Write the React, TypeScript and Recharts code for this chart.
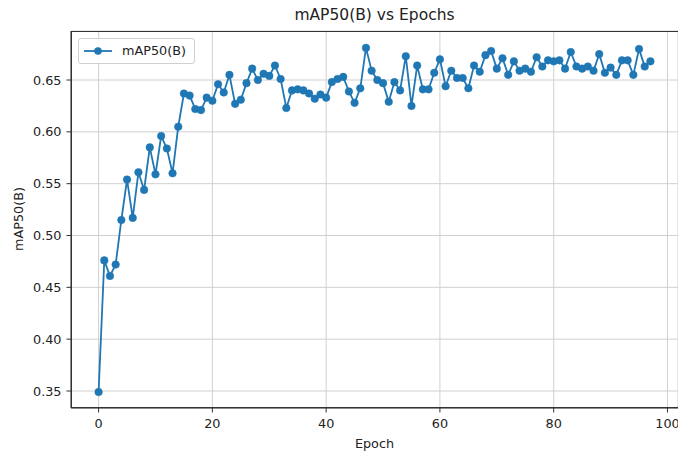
import React from 'react';
import { LineChart, Line, XAxis, YAxis, CartesianGrid } from 'recharts';

const epochs = [
  0, 1, 2, 3, 4, 5, 6, 7, 8, 9, 10, 11, 12, 13, 14, 15, 16, 17, 18, 19,
  20, 21, 22, 23, 24, 25, 26, 27, 28, 29, 30, 31, 32, 33, 34, 35, 36, 37, 38, 39,
  40, 41, 42, 43, 44, 45, 46, 47, 48, 49, 50, 51, 52, 53, 54, 55, 56, 57, 58, 59,
  60, 61, 62, 63, 64, 65, 66, 67, 68, 69, 70, 71, 72, 73, 74, 75, 76, 77, 78, 79,
  80, 81, 82, 83, 84, 85, 86, 87, 88, 89, 90, 91, 92, 93, 94, 95, 96, 97,
];

const map50 = [
  0.349, 0.476, 0.461, 0.472, 0.515, 0.554, 0.517, 0.561, 0.544, 0.585,
  0.559, 0.596, 0.584, 0.560, 0.605, 0.637, 0.635, 0.622, 0.621, 0.633,
  0.630, 0.646, 0.638, 0.655, 0.627, 0.631, 0.647, 0.661, 0.650, 0.656,
  0.654, 0.664, 0.651, 0.623, 0.640, 0.641, 0.640, 0.637, 0.632, 0.636,
  0.633, 0.648, 0.651, 0.653, 0.639, 0.628, 0.642, 0.681, 0.659, 0.650,
  0.647, 0.629, 0.648, 0.640, 0.673, 0.625, 0.664, 0.641, 0.641, 0.657,
  0.670, 0.644, 0.659, 0.652, 0.652, 0.642, 0.664, 0.658, 0.674, 0.678,
  0.661, 0.671, 0.655, 0.668, 0.659, 0.661, 0.658, 0.672, 0.663, 0.669,
  0.668, 0.669, 0.661, 0.677, 0.663, 0.661, 0.663, 0.659, 0.675, 0.657,
  0.662, 0.655, 0.669, 0.669, 0.655, 0.680, 0.663, 0.668,
];

const xTicks = [0, 20, 40, 60, 80, 100];
const yTicks = [0.35, 0.4, 0.45, 0.5, 0.55, 0.6, 0.65];

const title = 'mAP50(B) vs Epochs';
const xLabel = 'Epoch';
const yLabel = 'mAP50(B)';
const seriesName = 'mAP50(B)';

const data = epochs.map((e, i) => ({ epoch: e, value: map50[i] }));

const BLUE = '#1f77b4';
const FONT = '"DejaVu Sans", sans-serif';

export default function App() {
  return (
    <div
      style={{
        position: 'absolute',
        left: 0,
        top: 0,
        width: 678,
        height: 453,
        background: '#fff',
        fontFamily: FONT,
        overflow: 'hidden',
      }}
    >
      <LineChart
        width={678}
        height={453}
        data={data}
        margin={{ top: 31, right: 0, left: 0, bottom: 0 }}
      >
        <CartesianGrid stroke="#d0d0d0" strokeWidth={1} />
        <XAxis
          type="number"
          dataKey="epoch"
          domain={[-4.85, 101.85]}
          ticks={xTicks}
          allowDataOverflow
          height={45}
          tickSize={4.5}
          tickMargin={6}
          stroke="#333"
          tick={{ fontSize: 12.8, fill: '#222', fontFamily: FONT }}
        />
        <YAxis
          type="number"
          domain={[0.3336, 0.6973]}
          ticks={yTicks}
          allowDataOverflow
          width={71}
          tickSize={4.5}
          tickMargin={5}
          stroke="#333"
          tickFormatter={(v: number) => v.toFixed(2)}
          tick={{ fontSize: 12.8, fill: '#222', fontFamily: FONT }}
        />
        <Line
          type="linear"
          dataKey="value"
          name={seriesName}
          stroke={BLUE}
          strokeWidth={1.8}
          dot={{ r: 3.8, fill: BLUE, stroke: BLUE, strokeWidth: 0.5 }}
          activeDot={false}
          isAnimationActive={false}
        />
      </LineChart>
      {/* plot frame */}
      <div
        style={{
          position: 'absolute',
          left: 71,
          top: 31,
          width: 609,
          height: 377,
          border: '1px solid #333',
          boxSizing: 'border-box',
          pointerEvents: 'none',
        }}
      />
      {/* title */}
      <div
        style={{
          position: 'absolute',
          left: 71,
          width: 607,
          top: 6,
          textAlign: 'center',
          fontSize: 15.5,
          lineHeight: '18px',
          color: '#222',
        }}
      >
        {title}
      </div>
      {/* x label */}
      <div
        style={{
          position: 'absolute',
          left: 71,
          width: 607,
          top: 436,
          textAlign: 'center',
          fontSize: 12.8,
          lineHeight: '16px',
          color: '#222',
        }}
      >
        {xLabel}
      </div>
      {/* y label */}
      <div
        style={{
          position: 'absolute',
          left: 19,
          top: 219,
          transform: 'translate(-50%, -50%) rotate(-90deg)',
          fontSize: 12.8,
          lineHeight: '16px',
          color: '#222',
          whiteSpace: 'nowrap',
        }}
      >
        {yLabel}
      </div>
      {/* legend */}
      <div
        style={{
          position: 'absolute',
          left: 78,
          top: 38,
          width: 117,
          height: 26,
          border: '1px solid #d0d0d0',
          borderRadius: 3,
          background: 'rgba(255,255,255,0.85)',
          boxSizing: 'border-box',
        }}
      >
        <svg
          width={30}
          height={24}
          style={{ position: 'absolute', left: 4, top: 0 }}
        >
          <line x1={1} y1={12} x2={29} y2={12} stroke={BLUE} strokeWidth={1.8} />
          <circle cx={15} cy={12} r={3.8} fill={BLUE} />
        </svg>
        <div
          style={{
            position: 'absolute',
            left: 43,
            top: 4,
            fontSize: 12.8,
            lineHeight: '16px',
            color: '#222',
            whiteSpace: 'nowrap',
          }}
        >
          {seriesName}
        </div>
      </div>
    </div>
  );
}
